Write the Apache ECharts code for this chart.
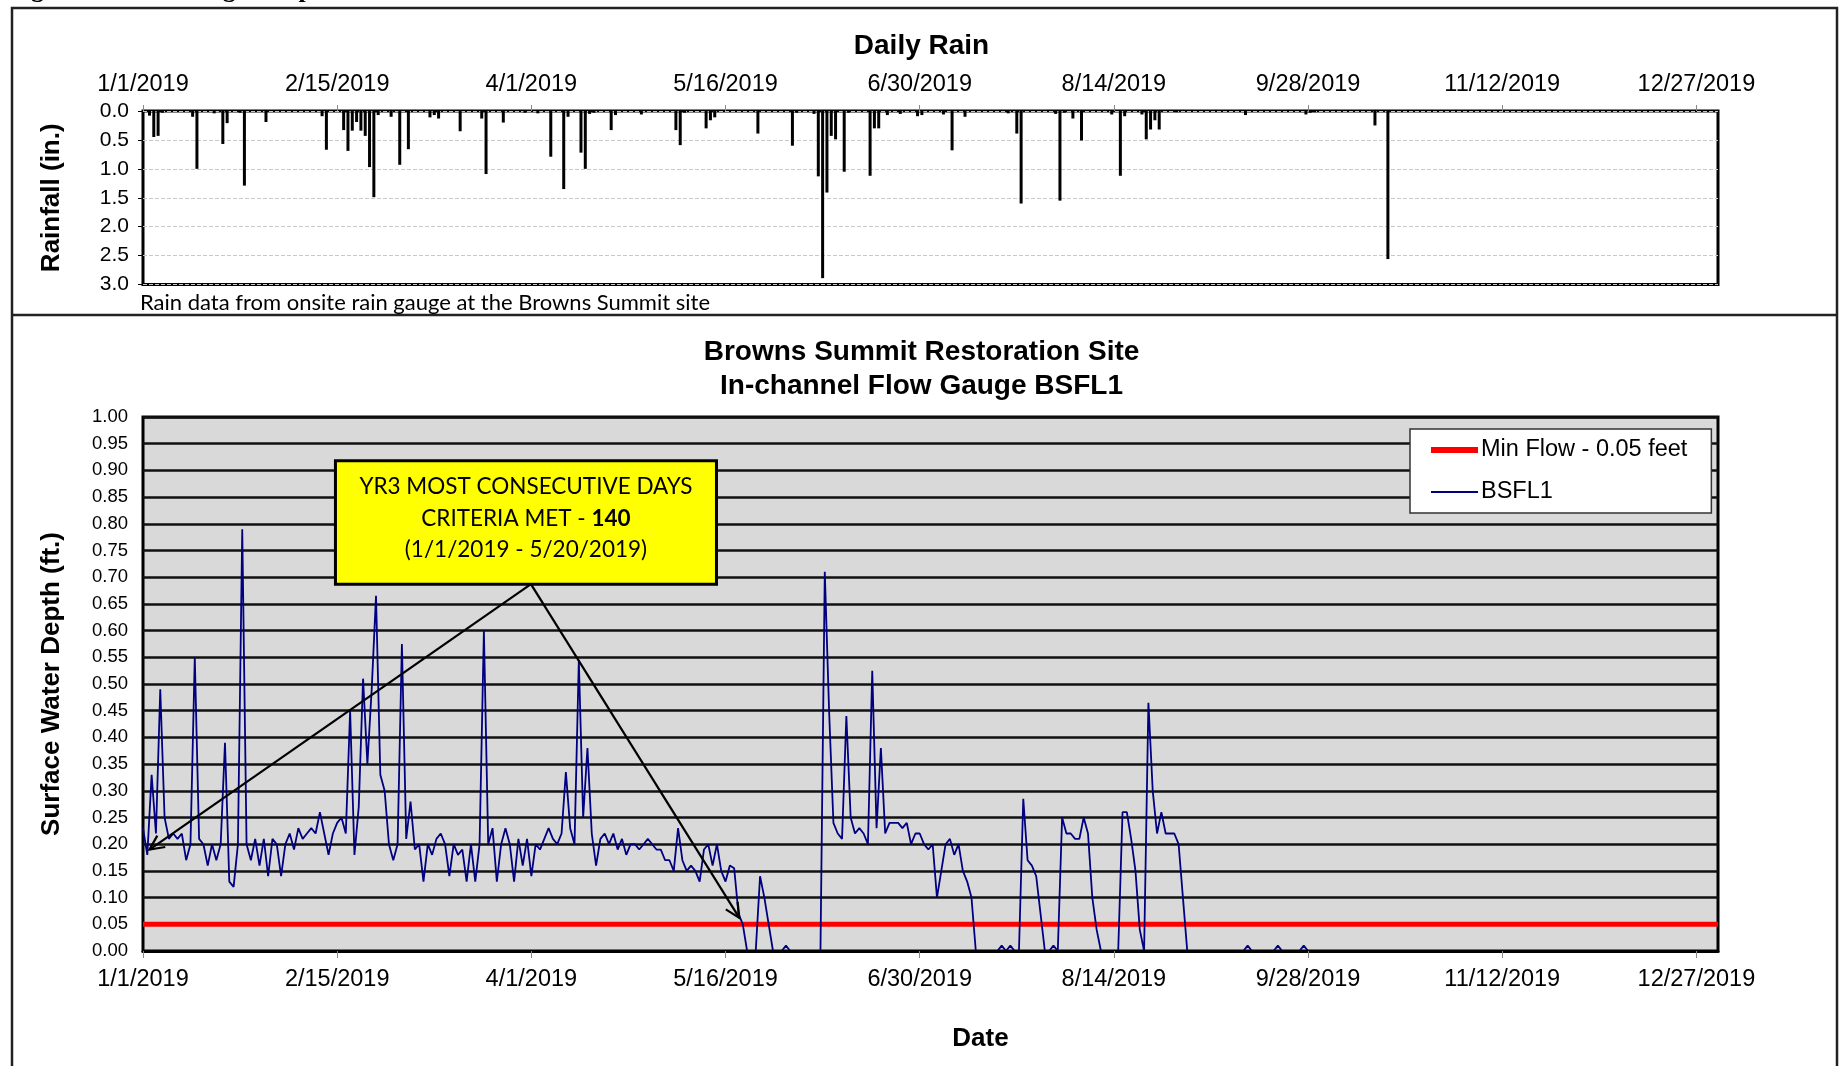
<!DOCTYPE html>
<html>
<head>
<meta charset="utf-8">
<script src="https://cdn.jsdelivr.net/npm/echarts@6/dist/echarts.min.js"></script>
<style>
  html, body { margin: 0; padding: 0; background: #fff; }
  #chart { width: 1843px; height: 1066px; }
</style>
</head>
<body>
<div id="chart"></div>
<script>
// ---- data -------------------------------------------------------------
// Daily rainfall from the onsite gauge (inches)
const rainDates = [
  '1/2/2019','1/3/2019','1/4/2019','1/5/2019','1/12/2019','1/13/2019','1/17/2019','1/19/2019','1/20/2019','1/23/2019','1/24/2019','1/29/2019',
  '2/11/2019','2/12/2019','2/16/2019','2/17/2019','2/18/2019','2/19/2019','2/20/2019','2/21/2019','2/22/2019','2/23/2019','2/24/2019','2/27/2019',
  '3/1/2019','3/3/2019','3/8/2019','3/9/2019','3/10/2019','3/15/2019','3/20/2019','3/21/2019','3/25/2019','3/30/2019',
  '4/2/2019','4/5/2019','4/8/2019','4/9/2019','4/12/2019','4/13/2019','4/14/2019','4/15/2019','4/19/2019','4/20/2019','4/26/2019',
  '5/4/2019','5/5/2019','5/6/2019','5/11/2019','5/12/2019','5/13/2019','5/23/2019','5/31/2019',
  '6/1/2019','6/5/2019','6/6/2019','6/7/2019','6/8/2019','6/9/2019','6/10/2019','6/12/2019','6/13/2019','6/18/2019','6/19/2019','6/20/2019','6/22/2019','6/25/2019','6/29/2019','6/30/2019',
  '7/5/2019','7/7/2019','7/10/2019','7/20/2019','7/22/2019','7/23/2019','7/31/2019',
  '8/1/2019','8/2/2019','8/4/2019','8/6/2019','8/13/2019','8/15/2019','8/16/2019','8/20/2019','8/21/2019','8/22/2019','8/23/2019','8/24/2019','8/28/2019',
  '9/13/2019','9/27/2019','9/28/2019','9/29/2019',
  '10/13/2019','10/16/2019'
];
const rainInches = [
  0.08,0.45,0.43,0.03,0.10,1.00,0.04,0.57,0.21,0.03,1.29,0.19,
  0.09,0.67,0.33,0.69,0.34,0.19,0.34,0.43,0.97,1.49,0.07,0.10,
  0.93,0.66,0.11,0.07,0.13,0.35,0.13,1.09,0.20,0.03,
  0.04,0.79,1.35,0.10,0.72,1.00,0.05,0.03,0.33,0.07,0.06,
  0.33,0.59,0.03,0.30,0.16,0.11,0.39,0.60,
  0.03,0.05,1.13,2.89,1.41,0.43,0.49,1.05,0.03,1.12,0.30,0.30,0.07,0.05,0.09,0.07,
  0.06,0.68,0.10,0.04,0.39,1.60,0.05,
  1.55,0.03,0.13,0.51,0.06,1.12,0.09,0.06,0.49,0.32,0.16,0.32,0.02,
  0.07,0.06,0.03,0.02,
  0.25,2.56
];

// Daily surface water depth at gauge BSFL1 (ft), one value per day from flowStart
const flowStart = '1/1/2019';
const flowDepth = [
  0.23,0.18,0.33,0.22,0.49,0.25,0.21,0.22,0.21,0.22,
  0.17,0.20,0.55,0.21,0.20,0.16,0.20,0.17,0.20,0.39,
  0.13,0.12,0.20,0.79,0.20,0.17,0.21,0.16,0.21,0.14,
  0.21,0.20,0.14,0.20,0.22,0.19,0.23,0.21,0.22,0.23,
  0.22,0.26,0.22,0.18,0.22,0.24,0.25,0.22,0.45,0.18,
  0.27,0.51,0.35,0.49,0.665,0.33,0.30,0.20,0.17,0.20,
  0.575,0.21,0.28,0.19,0.20,0.13,0.20,0.18,0.21,0.22,
  0.20,0.14,0.20,0.18,0.19,0.13,0.20,0.13,0.20,0.60,
  0.20,0.23,0.13,0.20,0.23,0.20,0.13,0.21,0.16,0.21,
  0.14,0.20,0.19,0.21,0.23,0.21,0.20,0.22,0.335,0.23,
  0.20,0.545,0.25,0.38,0.22,0.16,0.21,0.22,0.20,0.22,
  0.19,0.21,0.18,0.20,0.20,0.19,0.20,0.21,0.20,0.19,
  0.19,0.17,0.17,0.15,0.23,0.17,0.15,0.16,0.15,0.13,
  0.19,0.20,0.16,0.20,0.15,0.13,0.16,0.155,0.07,0.05,
  0,0,0,0.14,0.10,0.05,0,0,0,0.01,
  0,0,0,0,0,0,0,0,0.71,0.45,
  0.24,0.22,0.21,0.44,0.25,0.22,0.23,0.22,0.20,0.525,
  0.23,0.38,0.22,0.24,0.24,0.24,0.23,0.24,0.20,0.22,
  0.22,0.20,0.19,0.20,0.10,0.15,0.20,0.21,0.18,0.20,
  0.15,0.13,0.10,0,0,0,0,0,0,0.01,
  0,0.01,0,0,0.285,0.17,0.16,0.14,0.07,0,
  0,0.01,0,0.25,0.22,0.22,0.21,0.21,0.25,0.22,
  0.10,0.04,0,0,0,0,0,0.26,0.26,0.21,
  0.15,0.04,0,0.465,0.30,0.22,0.26,0.22,0.22,0.22,
  0.20,0.10,0,0,0,0,0,0,0,0,
  0,0,0,0,0,0,0.01,0,0,0,
  0,0,0,0.01,0,0,0,0,0,0.01,
  0,0,0
];

const minFlowFeet = 0.05;

// Date axis: 1/1/2019 to 1/1/2020, labelled every 45 days
const axisStartDate = '1/1/2019';
const axisEndDate = '1/1/2020';
const tickStepDays = 45;

// Callout
const calloutLines = ['YR3 MOST CONSECUTIVE DAYS', 'CRITERIA MET - ', '140', '(1/1/2019 - 5/20/2019)'];

// ---- helpers ----------------------------------------------------------
const DAY_MS = 86400000;
function toUTC(s) { const p = s.split('/').map(Number); return Date.UTC(p[2], p[0] - 1, p[1]); }
const originMs = toUTC(axisStartDate);
function dayIndex(s) { return Math.round((toUTC(s) - originMs) / DAY_MS); }
function dateLabel(v) {
  if (Math.abs(v / tickStepDays - Math.round(v / tickStepDays)) > 1e-6) return '';
  const t = new Date(originMs + v * DAY_MS);
  return (t.getUTCMonth() + 1) + '/' + t.getUTCDate() + '/' + t.getUTCFullYear();
}
const xMin = 0;
const xMax = dayIndex(axisEndDate);
const flowStartDay = dayIndex(flowStart);

const SANS = '"Liberation Sans", Arial, sans-serif';
const SOFT = 'Lato, "Open Sans", sans-serif';

const chart = echarts.init(document.getElementById('chart'), null, { renderer: 'canvas' });

const option = {
  animation: false,
  backgroundColor: '#fff',
  textStyle: { fontFamily: SANS, color: '#000' },
  title: [
    {
      text: 'Daily Rain', left: 'center', top: 32.5, padding: 0,
      textStyle: { fontFamily: SANS, fontSize: 28, fontWeight: 'bold', color: '#000' }
    },
    {
      text: 'Browns Summit Restoration Site\nIn-channel Flow Gauge BSFL1', left: 'center', top: 335.5, padding: 0,
      textStyle: { fontFamily: SANS, fontSize: 28, fontWeight: 'bold', lineHeight: 34, color: '#000' }
    }
  ],
  legend: {
    data: [
      { name: 'Min Flow - 0.05 feet', icon: 'path://M0,0H47V6H0Z' },
      { name: 'BSFL1', icon: 'path://M0,0H47V2H0Z' }
    ],
    orient: 'vertical',
    left: 1410, top: 429,
    backgroundColor: '#fff',
    borderColor: '#333', borderWidth: 1.5,
    padding: [9, 24, 9, 21],
    itemWidth: 47, itemHeight: 14, itemGap: 18,
    symbolKeepAspect: true,
    selectedMode: false,
    textStyle: { fontFamily: SANS, fontSize: 23.5, color: '#000', padding: [0, 0, 0, -2] }
  },
  grid: [
    { left: 143, right: 125, top: 111, height: 173.5, show: true, borderColor: '#000', borderWidth: 3, backgroundColor: '#fff' },
    { left: 143, right: 125, top: 417, height: 534, show: true, borderColor: '#000', borderWidth: 3, backgroundColor: '#d9d9d9' }
  ],
  xAxis: [
    {
      gridIndex: 0, type: 'value', position: 'top', min: xMin, max: xMax, interval: tickStepDays,
      axisLine: { show: false },
      axisTick: { show: true, length: 6, lineStyle: { color: '#888', width: 1 } },
      axisLabel: { formatter: dateLabel, fontSize: 23.5, margin: 14, color: '#000', showMaxLabel: false },
      splitLine: { show: false }
    },
    {
      gridIndex: 1, type: 'value', position: 'bottom', min: xMin, max: xMax, interval: tickStepDays, z: 5,
      axisLine: { show: true, onZero: false, lineStyle: { color: '#000', width: 3 } },
      axisTick: { show: true, length: 7, lineStyle: { color: '#888', width: 1 } },
      axisLabel: { formatter: dateLabel, fontSize: 23.5, margin: 17, color: '#000', showMaxLabel: false },
      splitLine: { show: false },
      name: 'Date', nameLocation: 'middle', nameGap: 74.5,
      // the axis title sits a little right of the plot centre
      nameTextStyle: { fontFamily: SANS, fontSize: 26, fontWeight: 'bold', color: '#000', padding: [0, 0, 0, 100] }
    }
  ],
  yAxis: [
    {
      gridIndex: 0, type: 'value', inverse: true, min: 0, max: 3, interval: 0.5,
      axisLine: { show: false },
      axisTick: { show: true, length: 5, lineStyle: { color: '#000' } },
      axisLabel: { formatter: v => v.toFixed(1), fontSize: 21, margin: 14, color: '#000' },
      splitLine: { show: true, lineStyle: { color: '#c8c8c8', type: 'dashed', width: 1 } },
      name: 'Rainfall (in.)', nameLocation: 'middle', nameRotate: 90, nameGap: 78.5,
      nameTextStyle: { fontFamily: SANS, fontSize: 26, fontWeight: 'bold', color: '#000' }
    },
    {
      gridIndex: 1, type: 'value', min: 0, max: 1, interval: 0.05,
      axisLine: { show: false },
      axisTick: { show: false },
      axisLabel: { formatter: v => v.toFixed(2), fontSize: 18.5, margin: 15, color: '#000' },
      splitLine: { show: true, lineStyle: { color: '#111', width: 2.5 } },
      name: 'Surface Water Depth (ft.)', nameLocation: 'middle', nameRotate: 90, nameGap: 78.5,
      nameTextStyle: { fontFamily: SANS, fontSize: 26, fontWeight: 'bold', color: '#000' }
    }
  ],
  series: [
    {
      name: 'Daily Rain', type: 'bar', xAxisIndex: 0, yAxisIndex: 0,
      barWidth: 3, silent: true,
      itemStyle: { color: '#000' },
      // each bar sits in the middle of its day
      data: rainDates.map((d, i) => [dayIndex(d) + 0.5, rainInches[i]])
    },
    {
      name: 'Min Flow - 0.05 feet', type: 'line', xAxisIndex: 1, yAxisIndex: 1,
      symbol: 'none', silent: true,
      lineStyle: { color: '#ff0000', width: 5 }, itemStyle: { color: '#ff0000' },
      data: [[xMin, minFlowFeet], [xMax, minFlowFeet]]
    },
    {
      name: 'BSFL1', type: 'line', xAxisIndex: 1, yAxisIndex: 1,
      symbol: 'none', silent: true,
      lineStyle: { color: '#000080', width: 1.8 }, itemStyle: { color: '#000080' },
      data: flowDepth.map((v, i) => [flowStartDay + i, v])
    }
  ]
};

chart.setOption(option);

// ---- page frame, notes and callout -------------------------------------
function px(day, val) { return chart.convertToPixel({ xAxisIndex: 1, yAxisIndex: 1 }, [day, val]); }

// callout box and arrow anchors, in (day, depth) space
const boxTL = px(44.6, 0.918);
const boxBR = px(132.9, 0.687);
const arrowFrom = px(89.9, 0.687);
const arrowTips = [px(1.5, 0.19), px(138.2, 0.062)];

function arrowHead(from, tip, len, spread) {
  const ang = Math.atan2(tip[1] - from[1], tip[0] - from[0]);
  const a1 = ang + Math.PI - spread, a2 = ang + Math.PI + spread;
  return [
    [tip[0] + len * Math.cos(a1), tip[1] + len * Math.sin(a1)],
    tip,
    [tip[0] + len * Math.cos(a2), tip[1] + len * Math.sin(a2)]
  ];
}

const graphics = [
  // outer frame and panel divider
  { type: 'polyline', silent: true, z: 10, shape: { points: [[12, 1066], [12, 8], [1837, 8], [1837, 1066]] }, style: { stroke: '#222', lineWidth: 2.5, fill: null } },
  { type: 'line', silent: true, z: 10, shape: { x1: 12, y1: 315, x2: 1837, y2: 315 }, style: { stroke: '#222', lineWidth: 2.5 } },
  // figure caption running off the top edge
  { type: 'text', silent: true, z: 10, x: 8, y: 3, style: { text: 'Figure 6. Flow Gauge Graphs Continued', font: 'bold 26px "Liberation Serif", "Times New Roman", serif', fill: '#000', verticalAlign: 'bottom', align: 'left' } },
  // rain gauge note
  { type: 'text', silent: true, z: 10, x: 140, y: 303, style: { text: 'Rain data from onsite rain gauge at the Browns Summit site', font: '22px ' + SOFT, fill: '#000', verticalAlign: 'middle', align: 'left' } }
];

// callout arrows
arrowTips.forEach(tip => {
  graphics.push({ type: 'line', silent: true, z: 20, shape: { x1: arrowFrom[0], y1: arrowFrom[1], x2: tip[0], y2: tip[1] }, style: { stroke: '#000', lineWidth: 2.2 } });
  graphics.push({ type: 'polyline', silent: true, z: 20, shape: { points: arrowHead(arrowFrom, tip, 16, 0.45) }, style: { stroke: '#000', lineWidth: 2.2, fill: null } });
});

// callout box
graphics.push({
  type: 'rect', silent: true, z: 21,
  shape: { x: boxTL[0], y: boxTL[1], width: boxBR[0] - boxTL[0], height: boxBR[1] - boxTL[1] },
  style: { fill: '#ffff00', stroke: '#000', lineWidth: 3 }
});
graphics.push({
  type: 'text', silent: true, z: 22,
  x: (boxTL[0] + boxBR[0]) / 2, y: (boxTL[1] + boxBR[1]) / 2 - 4,
  style: {
    text: '{n|' + calloutLines[0] + '}\n{n|' + calloutLines[1] + '}{b|' + calloutLines[2] + '}\n{n|' + calloutLines[3] + '}',
    align: 'center', verticalAlign: 'middle',
    rich: {
      n: { fontFamily: SOFT, fontSize: 22.5, lineHeight: 31.5, fill: '#000', color: '#000' },
      b: { fontFamily: SOFT, fontSize: 22.5, lineHeight: 31.5, fontWeight: 'bold', fill: '#000', color: '#000' }
    }
  }
});

chart.setOption({ graphic: graphics });
</script>
</body>
</html>
